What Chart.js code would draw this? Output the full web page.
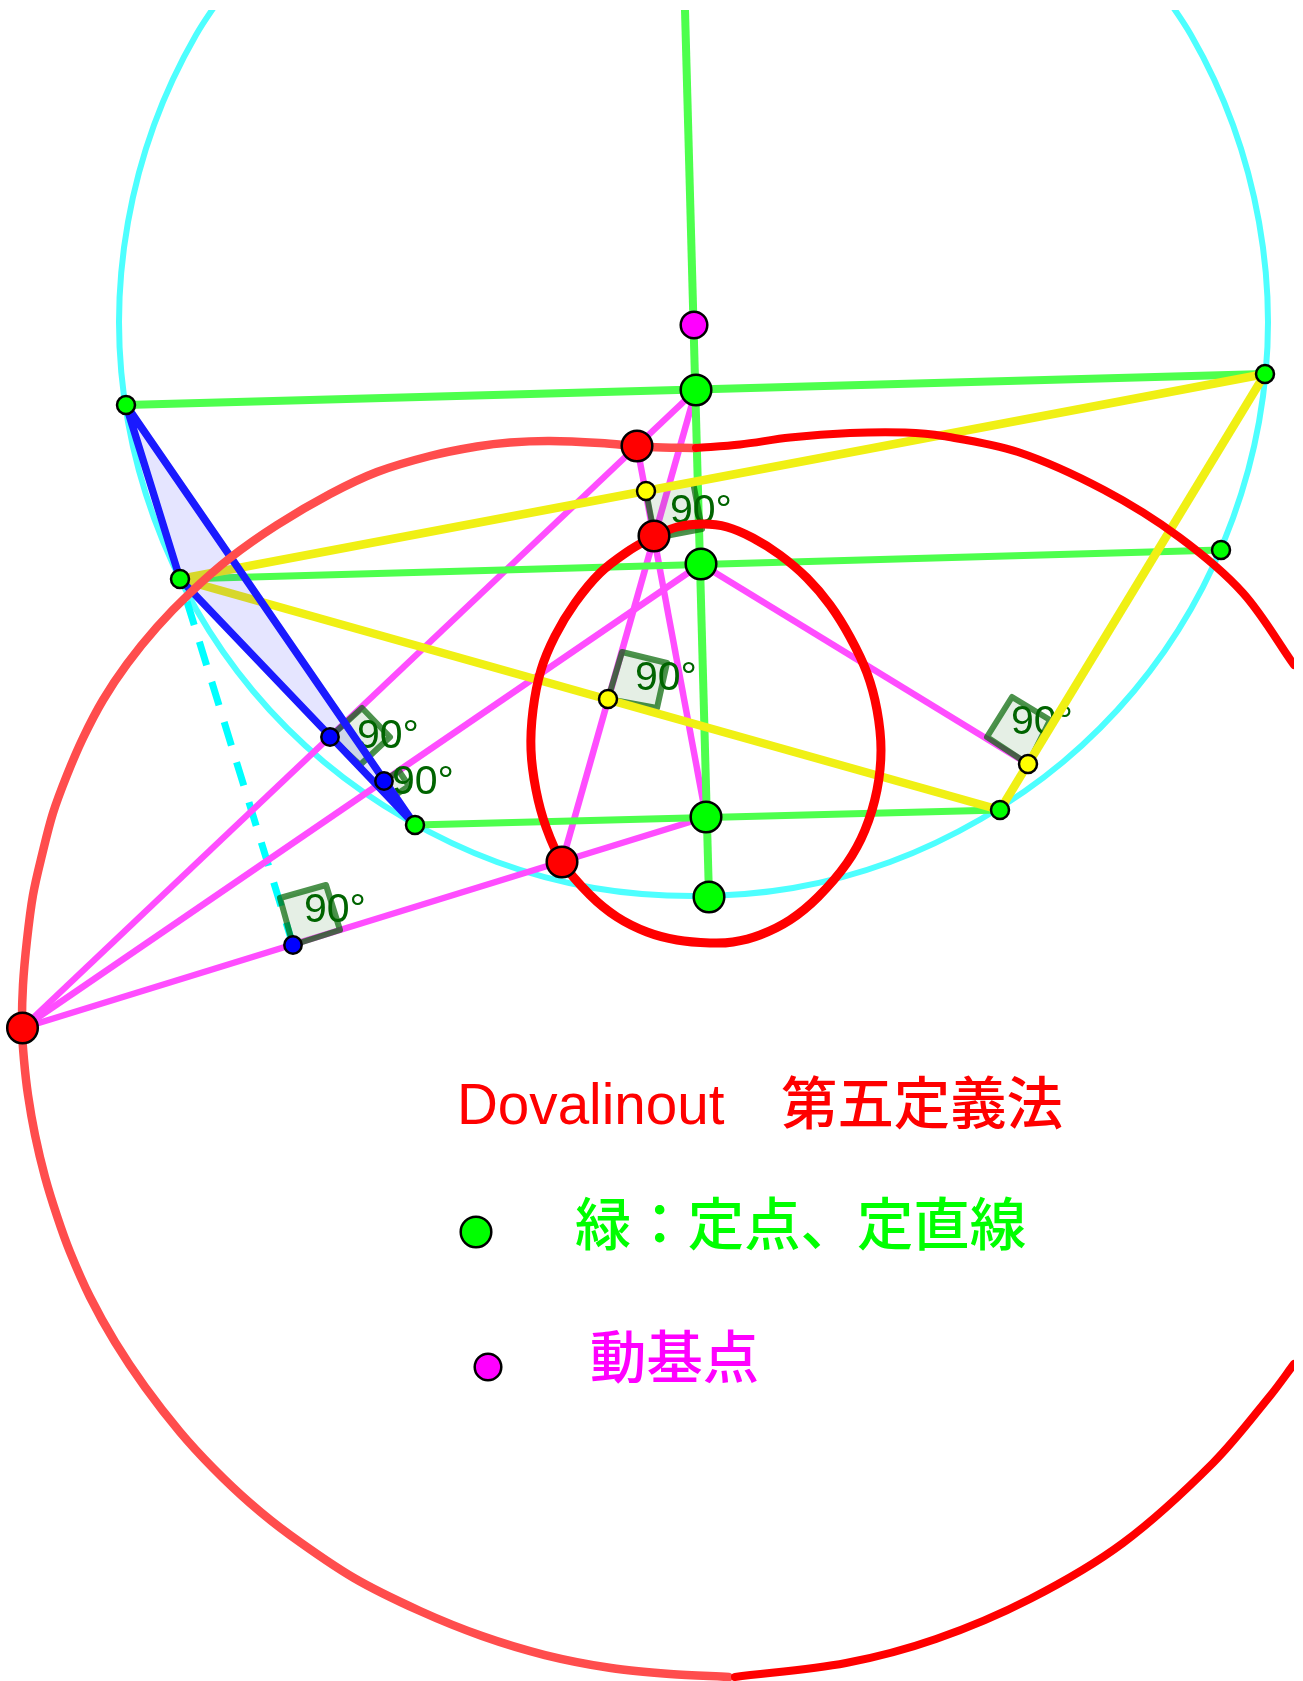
<!DOCTYPE html>
<html><head><meta charset="utf-8">
<style>html,body{margin:0;padding:0;background:#fff}canvas{display:block}</style>
<script src="https://cdn.jsdelivr.net/npm/chart.js@4"></script></head>
<body><canvas id="c" width="1303" height="1681"></canvas>
<script>
// Values, in the chart's own x/y units.
const cyanCircle=[[1134,-47],[1191,35],[1233,125],[1259,222],[1268,322],[1259,422],[1233,518],[1191,609],[1134,691],[1063,762],[981,819],[890,862],[793,888],[693,896],[594,888],[497,862],[406,819],[324,762],[253,691],[196,609],[154,518],[128,422],[119,322],[128,222],[154,125],[196,35],[253,-47]];
const cyanDashed=[[180,579],[293,945]];
const greenAxis=[[685,10],[709,897]];
const greenChord1=[[126,405],[1265,374]];
const greenChord2=[[180,579],[1221,550]];
const greenChord3=[[415,825],[1000,810]];
const magenta1=[[22.5,1028],[696,390]];
const magenta2=[[22.5,1028],[701,564]];
const magenta3=[[22.5,1028],[706,817]];
const magenta4=[[696,390],[562,862]];
const magenta5=[[637,446],[706,817]];
const magenta6=[[701,564],[1028,764]];
const yellow1=[[180,579],[1265,374]];
const yellow2=[[180,579],[1000,810]];
const yellow3=[[1000,810],[1265,374]];
const blueTriangle=[[126,405],[180,579],[415,825],[126,405]];
const angleA=[[646,491],[655,538],[702,529],[693,482],[646,491]];
const angleB=[[608,699],[622,652],[667,663],[657,708],[608,699]];
const angleC=[[1028,764],[987,737],[1012,697],[1050,720],[1028,764]];
const angleD=[[330,737],[362,708],[390,737],[360,765],[330,737]];
const angleE=[[384,781],[399,771],[409,786],[394,796],[384,781]];
const angleF=[[293,945],[340,930],[326,885],[280,898],[293,945]];
const redTop=[[696,448],[740,444.5],[790,437.5],[850,433],[905,432.5],[943,436],[1018,452],[1104,490],[1179,537],[1243,593],[1294,665]];
const redPale=[[696,448],[650,447],[600,443],[550,441],[510,442.5],[477,446.5],[430,456],[377,472],[330,494],[277,525],[230,558],[190,593],[157,627],[127,664],[103,700],[83,738],[67,775],[53,813],[42,855],[33,895],[27,940],[23,985],[22,1028],[24,1060],[28,1095],[35,1135],[45,1177],[57,1216],[70,1252],[90,1297],[115,1342],[145,1387],[180,1432],[213,1468],[250,1503],[290,1535],[354,1578],[420,1611],[482,1636],[545,1655],[611,1668],[670,1674],[729,1677]];
const redBottom=[[735,1677],[846,1663],[936,1639],[1030,1599],[1123,1543],[1213,1463],[1270,1396],[1294,1364]];
const redOval=[[654,536],[677,527],[703,524],[727,527],[753,538],[780,555],[807,578],[830,605],[850,637],[867,673],[877,710],[881,750],[877,790],[865,830],[847,863],[818,897],[790,920],[760,935],[733,942],[710,943],[677,940],[647,932],[617,917],[590,895],[562,862],[546,827],[536,790],[531,750],[533,710],[541,670],[555,636],[575,603],[600,573],[627,552],[654,536]];
const smallGreenPts=[[126,405],[1265,374],[180,579],[1221,550],[415,825],[1000,810]];
const bigGreenPts=[[696,390],[701,564],[706,817],[709,897],[476,1232]];
const redPts=[[637,446],[654,536],[562,862],[22.5,1028]];
const yellowPts=[[646,491],[608,699],[1028,764]];
const bluePts=[[330,737],[384,781],[293,945]];
const magentaPts=[[694,325],[488,1367]];
const angleLabels=[['90°',670,523],['90°',635,690],['90°',1011,734],['90°',357,748],['90°',392,794],['90°',304,922]];
const legendTexts=[['Dovalinout',457,1124,'#ff0000','56.6px "Liberation Sans"'],['第五定義法',781,1124,'#ff0000','500 56.4px "Noto Sans CJK JP"'],['緑：定点、定直線',575,1245,'#00ff00','500 56.4px "Noto Sans CJK JP"'],['動基点',590,1378,'#ff00ff','500 56.4px "Noto Sans CJK JP"']];

const P=a=>a.map(([x,y])=>({x,y}));
const ln=(a,color,w,extra={})=>({data:P(a),showLine:true,borderColor:color,borderWidth:w,pointRadius:0,fill:false,tension:0,clip:0,...extra});
const crv=(a,color,w)=>ln(a,color,w,{tension:0.333,borderCapStyle:'round',capBezierPoints:false});
const ang=a=>ln(a,'rgba(0,100,0,0.7)',6,{fill:'shape',backgroundColor:'rgba(0,100,0,0.1)',borderJoinStyle:'round'});
const pts=(a,fill,r)=>({data:P(a),showLine:false,pointRadius:r,pointBackgroundColor:fill,pointBorderColor:'#000',pointBorderWidth:2.5,clip:false});
const G='rgb(77,255,77)',M='rgb(255,77,255)',Y='rgb(240,240,20)';
const under=[
 crv(cyanCircle,'rgb(77,255,255)',6),
 ln(cyanDashed,'#00ffff',7,{borderDash:[24.5,17.5],borderDashOffset:18.3}),
 ln(magenta1,M,6.5),ln(magenta2,M,6.5),ln(magenta3,M,6.5),ln(magenta4,M,6.5),ln(magenta5,M,6.5),ln(magenta6,M,6.5),
 ln(greenAxis,G,8),ln(greenChord1,G,8),ln(greenChord2,G,7),ln(greenChord3,G,7),
 ang(angleA),ang(angleB),ang(angleC),ang(angleD),ang(angleE),ang(angleF)
];
const labelIndex=under.length-1;
const datasets=[...under,
 ln(yellow1,Y,8.5),ln(yellow2,Y,8.5),ln(yellow3,Y,8.5),
 ln(blueTriangle,'rgb(26,26,255)',7.5,{fill:'shape',backgroundColor:'rgba(0,0,255,0.1)',borderJoinStyle:'round'}),
 crv(redPale,'rgb(255,77,77)',8.5),crv(redTop,'rgb(255,0,0)',8),crv(redBottom,'rgb(255,0,0)',8),crv(redOval,'rgb(255,0,0)',9),
 pts(smallGreenPts,'#00ff00',9),pts(bigGreenPts,'#00ff00',15.3),pts(redPts,'#ff0000',15.3),pts(yellowPts,'#ffff00',9),pts(bluePts,'#0000ff',8.7),pts(magentaPts,'#ff00ff',13.3)
];
datasets.forEach((d,i)=>d.order=datasets.length-i);
const textPlugin={id:'texts',
 afterDatasetDraw(chart,args){
  if(args.index!==labelIndex)return;
  const {ctx,scales:{x,y}}=chart;ctx.save();ctx.fillStyle='rgb(0,100,0)';ctx.font='41px "Liberation Sans"';ctx.textBaseline='alphabetic';
  angleLabels.forEach(([t,a,b])=>ctx.fillText(t,x.getPixelForValue(a),y.getPixelForValue(b)));ctx.restore();
 },
 afterDatasetsDraw(chart){
  const {ctx,scales:{x,y}}=chart;ctx.save();ctx.textBaseline='alphabetic';
  legendTexts.forEach(([t,a,b,c,f])=>{ctx.fillStyle=c;ctx.font=f;ctx.fillText(t,x.getPixelForValue(a),y.getPixelForValue(b));});ctx.restore();
 }};
new Chart(document.getElementById('c'),{type:'scatter',data:{datasets},plugins:[textPlugin],
 options:{responsive:false,animation:false,events:[],layout:{autoPadding:false,padding:{top:10,right:9,left:0,bottom:0}},
  plugins:{legend:{display:false},tooltip:{enabled:false},title:{display:false}},
  scales:{x:{type:'linear',display:false,min:0,max:1294},y:{type:'linear',display:false,reverse:true,min:10,max:1681}}}});
</script></body></html>
